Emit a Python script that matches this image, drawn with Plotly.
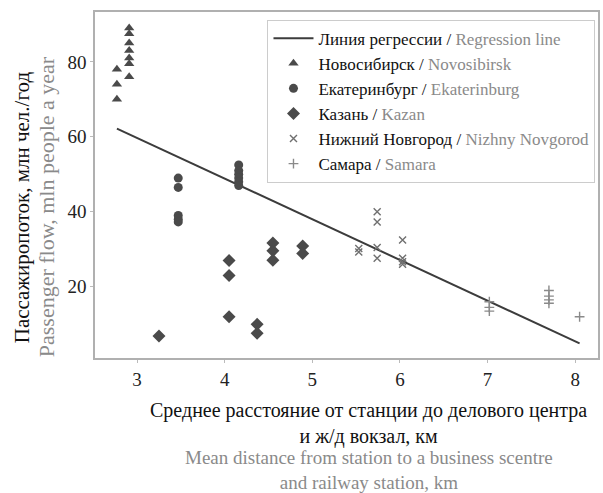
import plotly.graph_objects as go

# Data
reg_x = [2.77, 8.05]
reg_y = [62.2, 4.9]

nov_x = [2.77, 2.77, 2.77, 2.91, 2.91, 2.91, 2.91, 2.91, 2.91, 2.91]
nov_y = [78, 74, 70, 89, 87.5, 85, 83, 81, 79.5, 76]

eka_x = [3.47, 3.47, 3.47, 3.47, 3.47, 4.16, 4.16, 4.16, 4.16, 4.16, 4.16]
eka_y = [49, 46.5, 39, 38, 37.3, 52.5, 51, 50, 49, 48, 47]

kaz_x = [3.25, 4.05, 4.05, 4.05, 4.37, 4.37, 4.55, 4.55, 4.55, 4.89, 4.89]
kaz_y = [6.9, 27, 23, 12, 10, 7.6, 31.7, 29.6, 27.1, 30.9, 28.9]

niz_x = [5.53, 5.53, 5.74, 5.74, 5.74, 5.74, 6.03, 6.03, 6.03, 6.03]
niz_y = [30.2, 29.3, 40, 37.3, 30.5, 27.6, 32.5, 27.6, 26.7, 26]

sam_x = [7.02, 7.02, 7.02, 7.70, 7.70, 7.70, 7.70, 8.05]
sam_y = [16, 14.5, 13.5, 19, 17.5, 16.5, 15.6, 12]

GR = "#8a8a8a"
def nm(ru, en):
    return f"{ru} / <span style='color:{GR}'>{en}</span>"

fig = go.Figure()
fig.add_trace(go.Scatter(x=reg_x, y=reg_y, mode="lines",
                         line=dict(color="#3c3c3c", width=2),
                         name=nm("Линия регрессии", "Regression line")))
fig.add_trace(go.Scatter(x=nov_x, y=nov_y, mode="markers",
                         marker=dict(symbol="triangle-up", size=9, color="#4a4a4a"),
                         name=nm("Новосибирск", "Novosibirsk")))
fig.add_trace(go.Scatter(x=eka_x, y=eka_y, mode="markers",
                         marker=dict(symbol="circle", size=9, color="#4a4a4a"),
                         name=nm("Екатеринбург", "Ekaterinburg")))
fig.add_trace(go.Scatter(x=kaz_x, y=kaz_y, mode="markers",
                         marker=dict(symbol="diamond", size=10, color="#4a4a4a"),
                         name=nm("Казань", "Kazan")))
fig.add_trace(go.Scatter(x=niz_x, y=niz_y, mode="markers",
                         marker=dict(symbol="x-thin", size=7, color="#707070",
                                     line=dict(width=1.4, color="#707070")),
                         name=nm("Нижний Новгород", "Nizhny Novgorod")))
fig.add_trace(go.Scatter(x=sam_x, y=sam_y, mode="markers",
                         marker=dict(symbol="cross-thin", size=7, color="#8a8a8a",
                                     line=dict(width=1.4, color="#8a8a8a")),
                         name=nm("Самара", "Samara")))

font = "Liberation Serif, DejaVu Serif, serif"
fig.update_layout(
    width=603, height=493,
    margin=dict(l=95, r=3, t=12, b=135),
    paper_bgcolor="white", plot_bgcolor="white",
    font=dict(family=font, size=17, color="#222"),
    showlegend=True,
    legend=dict(x=0.995, y=0.978, xanchor="right", yanchor="top",
                bgcolor="white", bordercolor="#cccccc", borderwidth=1,
                font=dict(family=font, size=17, color="#111"),
                tracegroupgap=0, itemwidth=40),
    xaxis=dict(range=[2.52, 8.26], tickvals=[3, 4, 5, 6, 7, 8],
               showgrid=False, zeroline=False,
               showline=True, linecolor="#b0b0b0", linewidth=1.5, mirror=True,
               ticks="outside", ticklen=3, tickcolor="#bbbbbb",
               tickfont=dict(family=font, size=19, color="#222")),
    yaxis=dict(range=[1, 93.3], tickvals=[20, 40, 60, 80],
               showgrid=False, zeroline=False,
               showline=True, linecolor="#b0b0b0", linewidth=1.5, mirror=True,
               ticks="outside", ticklen=3, tickcolor="#bbbbbb",
               tickfont=dict(family=font, size=19, color="#222")),
    annotations=[
        dict(xref="paper", yref="paper", x=(370 - 95) / 505, y=-(423 - 358) / 346,
             xanchor="center", yanchor="middle", showarrow=False,
             text="Среднее расстояние от станции до делового центра<br>и ж/д вокзал, км",
             font=dict(family=font, size=20, color="#111")),
        dict(xref="paper", yref="paper", x=(370 - 95) / 505, y=-(494 - 358) / 346,
             xanchor="center", yanchor="bottom", showarrow=False, borderpad=0,
             text="Mean distance from station to a business scentre<br>and railway station, km",
             font=dict(family=font, size=19, color=GR)),
        dict(xref="paper", yref="paper", x=-(95 - 22) / 505, y=(358 - 207) / 346,
             xanchor="center", yanchor="middle", showarrow=False, textangle=-90,
             text="Пассажиропоток, млн чел./год",
             font=dict(family=font, size=21, color="#111")),
        dict(xref="paper", yref="paper", x=-(95 - 46) / 505, y=(358 - 207) / 346,
             xanchor="center", yanchor="middle", showarrow=False, textangle=-90,
             text="Passenger flow, mln people a year",
             font=dict(family=font, size=22, color=GR)),
    ],
)

fig.write_html("out.html", config={"displayModeBar": False},
               post_script="document.body.style.margin='0';")
